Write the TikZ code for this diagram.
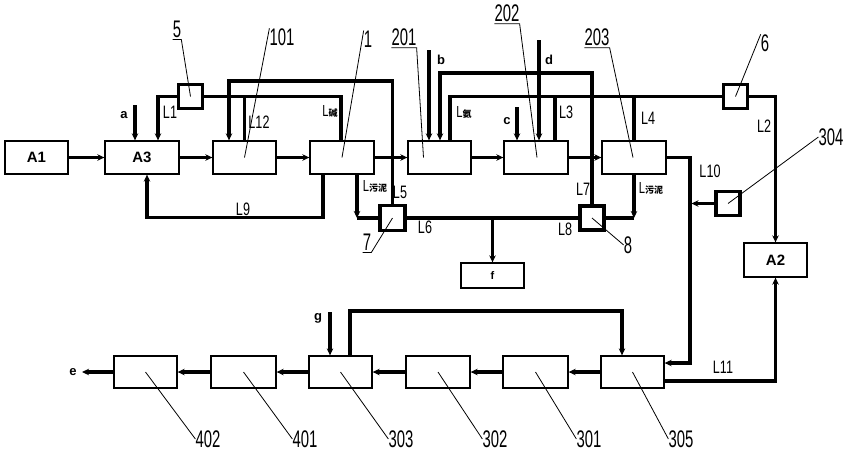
\documentclass[tikz,border=0pt]{standalone}
\usepackage{fontspec}
\setmainfont{Liberation Sans}
\newfontfamily\cadfont[FakeStretch=0.62]{Liberation Sans}
\newfontfamily\labfont[FakeStretch=0.70]{Liberation Sans}
\newfontfamily\cjk{Noto Sans CJK SC}
\usetikzlibrary{arrows.meta}
\begin{document}
\begin{tikzpicture}[x=1pt,y=-1pt,
 flow/.style={line width=3.1pt},
 ar/.style={-{Stealth[length=7pt,width=6.5pt]}},
 pbox/.style={draw,line width=1.3pt,minimum width=63pt,minimum height=33pt,inner sep=0pt},
 sbox/.style={draw,line width=3.4pt,minimum size=24pt,inner sep=0pt},
 abox/.style={pbox,font=\bfseries\fontsize{15}{15}\selectfont},
 lead/.style={line width=0.8pt},
 ref/.style={font=\cadfont\fontsize{24}{24}\selectfont,inner sep=0pt},
 lab/.style={font=\labfont\fontsize{18}{18}\selectfont,inner sep=0pt},
 let/.style={font=\bfseries\fontsize{13}{13}\selectfont,inner sep=0pt},
 cnl/.style={font=\labfont\fontsize{16}{16}\selectfont,inner sep=0pt}
]
\useasboundingbox (0,0) rectangle (848,451);
% main row
\node[abox] (A1) at (36.5,157.5) {A1};
\node[abox,minimum width=74pt] (A3) at (142,157.5) {A3};
\node[pbox] (b101) at (244.5,157.5) {};
\node[pbox,minimum width=64pt] (u1) at (342,157.5) {};
\node[pbox] (b201) at (439.5,157.5) {};
\node[pbox,minimum width=64pt] (b202) at (536,157.5) {};
\node[pbox,minimum width=64pt] (b203) at (634,157.5) {};
\node[abox,minimum height=34pt] (A2) at (775.5,260) {A2};
\node[pbox,minimum height=25pt,font=\bfseries\fontsize{11}{11}\selectfont] (f) at (492.5,275.5) {f};
% bottom row
\node[pbox,minimum height=32pt] (b402) at (145.5,372) {};
\node[pbox,minimum width=65pt,minimum height=32pt] (b401) at (243.5,372) {};
\node[pbox,minimum height=32pt] (b303) at (340.5,372) {};
\node[pbox,minimum width=64pt,minimum height=32pt] (b302) at (438,372) {};
\node[pbox,minimum width=65pt,minimum height=32pt] (b301) at (535.5,372) {};
\node[pbox,minimum height=32pt] (b305) at (632.5,372) {};
% small boxes
\node[sbox] (s5) at (190.5,96.5) {};
\node[sbox] (s6) at (735.5,96.5) {};
\node[sbox,minimum size=25pt] (s7) at (392.5,218) {};
\node[sbox] (s8) at (592,218) {};
\node[sbox] (s304) at (728,203.5) {};
% helper coordinates
\coordinate (y81) at (0,81);
\coordinate (y73) at (0,73);
\coordinate (rc) at (690,363);
\coordinate (y311) at (0,311);
\coordinate (ta) at (135,105);
\coordinate (tb) at (429,50);
\coordinate (tc) at (517,107);
\coordinate (td) at (539,40);
\coordinate (tg) at (330,312);
\coordinate (te) at (82,372);
% main row connectors
\draw[flow,ar] (A1) -- (A3);
\draw[flow,ar] (A3) -- (b101);
\draw[flow,ar] (b101) -- (u1);
\draw[flow,ar] (u1) -- (b201);
\draw[flow,ar] (b201) -- (b202);
\draw[flow,ar] (b202) -- (b203);
% top lines
\draw[flow,ar] (ta) -- (ta |- A3.north);
\draw[flow,ar] (s5.west) -| ([xshift=16pt]A3.north);
\draw[flow] (s5.east) -| ([xshift=-1pt]u1.north);
\draw[flow] (b101.north |- s5.east) -- (b101.north);
\draw[flow,ar] (s7.north) -- (s7.north |- y81) -| ([xshift=-15.5pt]b101.north);
\draw[flow,ar] (tb) -- (tb |- b201.north);
\draw[flow,ar] (s8.north) -- (s8.north |- y73) -| ([xshift=0.5pt]b201.north);
\draw[flow] ([xshift=10.5pt]b201.north) |- (s6.west);
\draw[flow] ([xshift=19pt]b202.north) -- ([xshift=19pt]b202.north |- s6.west);
\draw[flow,ar] (tc) -- (tc |- b202.north);
\draw[flow,ar] (td) -- (td |- b202.north);
\draw[flow] (b203.north) -- (b203.north |- s6.west);
\draw[flow,ar] (s6.east) -| (A2.north);
% right side
\draw[flow,ar] (b203.east) -| (rc) -- (rc -| b305.east);
\draw[flow,ar,shorten >=1.5pt] (s304.west) -- (s304.west -| rc);
\draw[flow,ar] ([yshift=-9pt]b305.east) -| (A2.south);
% lower middle
\draw[flow,ar] ([xshift=-19pt]u1.south) -- ++(0,43) -| ([xshift=5pt]A3.south);
\draw[flow,ar] ([xshift=15pt]u1.south) -- ([xshift=15pt]u1.south |- s7.west);
\draw[flow] ([xshift=15pt]u1.south |- s7.west) -- (s7.west);
\draw[flow] (s7.east) -- (s8.west);
\draw[flow,ar] (f.north |- s7.east) -- (f.north);
\draw[flow,ar] (b203.south) -- (b203.south |- s8.east);
\draw[flow] (b203.south |- s8.east) -- (s8.east);
% bottom row connectors
\draw[flow,ar] (b305) -- (b301);
\draw[flow,ar] (b301) -- (b302);
\draw[flow,ar] (b302) -- (b303);
\draw[flow,ar] (b303) -- (b401);
\draw[flow,ar] (b401) -- (b402);
\draw[flow,ar] (b402) -- (te);
\draw[flow,ar] (tg) -- (tg |- b303.north);
\draw[flow,ar] ([xshift=9.5pt]b303.north) -- ([xshift=9.5pt]b303.north |- y311) -| ([xshift=-10.5pt]b305.north);
% letters
\node[let] (la) at (124,115) {a};
\node[let] (lb) at (441,60) {b};
\node[let] (lc) at (507,121) {c};
\node[let] (ld) at (549,60) {d};
\node[let] (lg) at (318,318) {g};
\node[let] (le) at (73,372) {e};
% reference numbers with leaders
\node[ref] (n5) at (177,29) {5};
\draw[lead] ([yshift=-2pt]n5.south west) -- ([yshift=-2pt]n5.south east) -- (s5.center);
\node[ref] (n101) at (282,37) {101};
\draw[lead] (n101.north west) -- (b101.center);
\node[ref] (n1) at (368,39) {1};
\draw[lead] (n1.north west) -- (u1.center);
\node[ref] (n201) at (404,37) {201};
\draw[lead] ([yshift=-2pt]n201.south west) -- ([yshift=-2pt]n201.south east) -- ([xshift=-16pt]b201.center);
\node[ref] (n202) at (507,13) {202};
\draw[lead] ([yshift=-2pt]n202.south west) -- ([yshift=-2pt]n202.south east) -- ([xshift=1pt]b202.center);
\node[ref] (n203) at (597,37) {203};
\draw[lead] ([yshift=-2pt]n203.south west) -- ([yshift=-2pt]n203.south east) -- ([xshift=-1pt]b203.center);
\node[ref] (n6) at (765,43) {6};
\draw[lead] (n6.north west) -- (s6.center);
\node[ref] (n304) at (831,137) {304};
\draw[lead] (n304.west) -- (s304.center);
\node[ref] (n7) at (367,242) {7};
\draw[lead] ([yshift=-2pt]n7.south west) -- ([yshift=-2pt]n7.south east) -- (s7.center);
\node[ref] (n8) at (628,245) {8};
\draw[lead] (n8.west) -- (s8.center);
\node[ref] (n402) at (208,439) {402};
\draw[lead] (n402.west) -- (b402.center);
\node[ref] (n401) at (305,439) {401};
\draw[lead] (n401.west) -- (b401.center);
\node[ref] (n303) at (401,439) {303};
\draw[lead] (n303.west) -- (b303.center);
\node[ref] (n302) at (495,439) {302};
\draw[lead] (n302.west) -- (b302.center);
\node[ref] (n301) at (589,439) {301};
\draw[lead] (n301.west) -- (b301.center);
\node[ref] (n305) at (681,439) {305};
\draw[lead] (n305.west) -- (b305.center);
% line labels
\node[lab] (lL1) at (170,112) {L1};
\node[lab] (lL12) at (259,122) {L12};
\node[lab] (lL5) at (400,192) {L5};
\node[lab] (lL6) at (425,227) {L6};
\node[lab] (lL3) at (566,112) {L3};
\node[lab] (lL4) at (648,118) {L4};
\node[lab] (lL2) at (764,126) {L2};
\node[lab] (lL7) at (583,189) {L7};
\node[lab] (lL8) at (565,229) {L8};
\node[lab] (lL10) at (710,171) {L10};
\node[lab] (lL11) at (723,367) {L11};
\node[lab] (lL9) at (243,209) {L9};
\node[cnl] (lacid) at (330,111) {L{\cjk\bfseries\fontsize{9}{9}\selectfont 碱}};
\node[cnl] (lammo) at (464,112) {L{\cjk\bfseries\fontsize{9}{9}\selectfont 氨}};
\node[cnl] (lsl1) at (375,186) {L{\cjk\bfseries\fontsize{9}{9}\selectfont 污泥}};
\node[cnl] (lsl2) at (651,188) {L{\cjk\bfseries\fontsize{9}{9}\selectfont 污泥}};
\end{tikzpicture}
\end{document}
